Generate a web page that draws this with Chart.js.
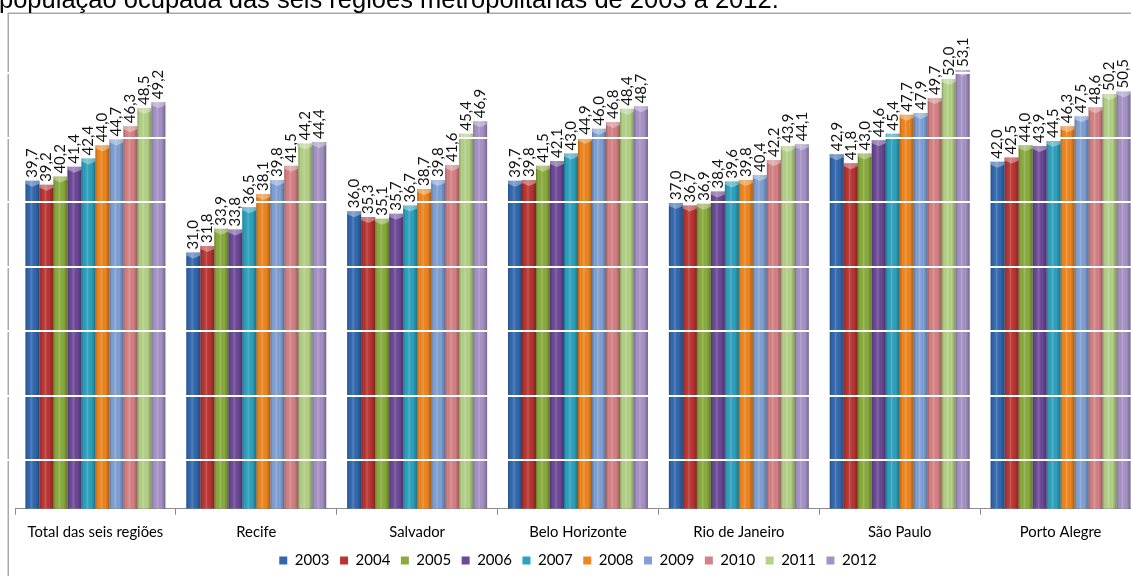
<!DOCTYPE html>
<html><head><meta charset="utf-8">
<script src="https://cdn.jsdelivr.net/npm/chart.js@4.4.0/dist/chart.umd.min.js"></script>
<style>
html,body{margin:0;padding:0;background:#fff;overflow:hidden;width:1131px;height:576px;}
#wrap{position:absolute;left:0;top:0;width:1150px;height:576px;}
#title{position:absolute;left:-1px;top:-13px;font:25.5px "Liberation Sans",Arial,sans-serif;line-height:25.5px;color:#000;white-space:nowrap;}
</style></head><body>
<div id="wrap"><canvas id="c" width="1150" height="576"></canvas></div>
<div id="title">população ocupada das seis regiões metropolitanas de 2003 a 2012.</div>
<script>
const categories = ['Total das seis regiões','Recife','Salvador','Belo Horizonte','Rio de Janeiro','São Paulo','Porto Alegre'];
const years = ['2003','2004','2005','2006','2007','2008','2009','2010','2011','2012'];
const y2003 = [39.7,31.0,36.0,39.7,37.0,42.9,42.0];
const y2004 = [39.2,31.8,35.3,39.8,36.7,41.8,42.5];
const y2005 = [40.2,33.9,35.1,41.5,36.9,43.0,44.0];
const y2006 = [41.4,33.8,35.7,42.1,38.4,44.6,43.9];
const y2007 = [42.4,36.5,36.7,43.0,39.6,45.4,44.5];
const y2008 = [44.0,38.1,38.7,44.9,39.8,47.7,46.3];
const y2009 = [44.7,39.8,39.8,46.0,40.4,47.9,47.5];
const y2010 = [46.3,41.5,41.6,46.8,42.2,49.7,48.6];
const y2011 = [48.5,44.2,45.4,48.4,43.9,52.0,50.2];
const y2012 = [49.2,44.4,46.9,48.7,44.1,53.1,50.5];
const gridValues = [5.9,13.7,21.5,29.3,37.1,44.9,52.7];
const seriesValues = [y2003,y2004,y2005,y2006,y2007,y2008,y2009,y2010,y2011,y2012];
const colors = ['#3168B0','#BA3431','#89AD3B','#6C4898','#2BA2BF','#F0861D','#7FA1D6','#D78184','#B5D386','#A792C7'];

const W = 1150, H = 576;
const fmt = v => v.toFixed(1).replace('.', ',');

const decor = {
  id: 'decor',
  beforeDraw(chart) {
    const ctx = chart.ctx;
    ctx.save();
    ctx.strokeStyle = '#A8A8A8';
    ctx.lineWidth = 1.5;
    ctx.strokeRect(8.25, 13.25, W, H + 50);
    ctx.restore();
  },
  afterDatasetsDraw(chart) {
    const ctx = chart.ctx;
    chart.data.datasets.forEach((ds, di) => {
      const meta = chart.getDatasetMeta(di);
      meta.data.forEach(bar => {
        const l = bar.x - bar.width / 2, r = bar.x + bar.width / 2;
        const g = ctx.createLinearGradient(l, 0, r, 0);
        g.addColorStop(0, 'rgba(0,0,0,0.25)');
        g.addColorStop(0.18, 'rgba(0,0,0,0.0)');
        g.addColorStop(0.42, 'rgba(255,255,255,0.18)');
        g.addColorStop(0.7, 'rgba(0,0,0,0.0)');
        g.addColorStop(1, 'rgba(0,0,0,0.3)');
        ctx.save();
        ctx.fillStyle = g;
        ctx.fillRect(l, bar.y, bar.width, bar.base - bar.y);
        ctx.fillStyle = 'rgba(255,255,255,0.35)';
        ctx.beginPath();
        ctx.moveTo(l, bar.y);
        ctx.lineTo(r, bar.y);
        ctx.lineTo(r, bar.y + 3);
        ctx.lineTo(bar.x, bar.y + 6);
        ctx.lineTo(l, bar.y + 3);
        ctx.closePath();
        ctx.fill();
        ctx.restore();
      });
    });
    const ys = chart.scales.y;
    ctx.save();
    ctx.strokeStyle = '#FFFFFF';
    ctx.lineWidth = 2;
    gridValues.forEach(v => {
      const p = Math.round(ys.getPixelForValue(v));
      ctx.beginPath();
      ctx.moveTo(0, p);
      ctx.lineTo(W, p);
      ctx.stroke();
    });
    ctx.restore();
    ctx.save();
    ctx.fillStyle = '#111';
    ctx.font = '15px Lato, "Open Sans", sans-serif';
    ctx.textAlign = 'left';
    ctx.textBaseline = 'middle';
    chart.data.datasets.forEach((ds, di) => {
      const meta = chart.getDatasetMeta(di);
      meta.data.forEach((bar, i) => {
        ctx.save();
        ctx.translate(bar.x, bar.y - 3);
        ctx.rotate(-Math.PI / 2);
        ctx.fillText(fmt(ds.data[i]), 0, 0);
        ctx.restore();
      });
    });
    ctx.restore();
  }
};

new Chart(document.getElementById('c'), {
  type: 'bar',
  data: {
    labels: categories,
    datasets: years.map((yr, i) => ({
      label: yr,
      data: seriesValues[i],
      backgroundColor: colors[i],
      borderWidth: 0,
      categoryPercentage: 0.87,
      barPercentage: 1.0
    }))
  },
  options: {
    responsive: false,
    animation: false,
    devicePixelRatio: 1,
    layout: { padding: { left: 15, right: 9, top: 13, bottom: -2 } },
    plugins: {
      legend: {
        position: 'bottom',
        labels: {
          boxWidth: 8, boxHeight: 8, padding: 10.5,
          color: '#000',
          font: { family: 'Lato', size: 15 }
        }
      },
      tooltip: { enabled: false },
      title: { display: false }
    },
    scales: {
      x: {
        afterFit(scale) { scale.height -= 8; },
        grid: { display: true, drawOnChartArea: false, drawTicks: true, tickLength: 6, color: '#8C8C8C', offset: true },
        border: { display: true, color: '#8C8C8C', width: 1 },
        ticks: { color: '#000', font: { family: 'Lato', size: 14.8 }, padding: 9, maxRotation: 0 }
      },
      y: {
        display: false,
        min: 0, max: 60
      }
    }
  },
  plugins: [decor]
});
</script>
</body></html>
